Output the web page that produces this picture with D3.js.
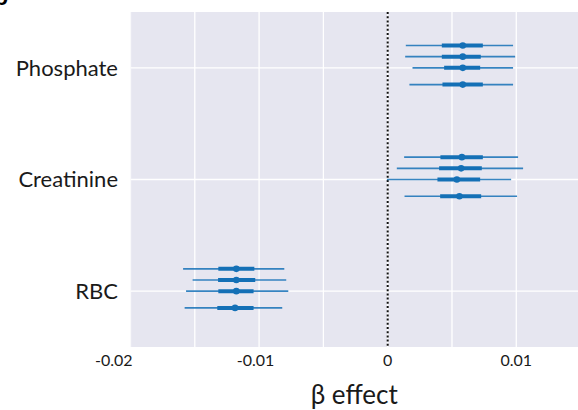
<!DOCTYPE html>
<html>
<head>
<meta charset="utf-8">
<script src="https://cdn.jsdelivr.net/npm/d3@7"></script>
<style>
  html, body { margin: 0; padding: 0; background: #ffffff; }
  svg { display: block; font-family: Lato, "Open Sans", sans-serif; }
</style>
</head>
<body>
<svg id="chart" width="578" height="410"></svg>
<script>
// ---- data ----
const categories = ["Phosphate", "Creatinine", "RBC"];
const xTicks = [-0.02, -0.01, 0, 0.01];
const xTickLabels = ["-0.02", "-0.01", "0", "0.01"];
const xLabel = "\u03b2 effect";

// point estimates per category (4 model variants each)
const phosphatePoint = [0.00584, 0.00584, 0.00584, 0.00584];
const phosphateLo95  = [0.00141, 0.00136, 0.00193, 0.00169];
const phosphateHi95  = [0.00975, 0.00991, 0.00975, 0.00975];
const phosphateLo50  = [0.00421, 0.00421, 0.00439, 0.00426];
const phosphateHi50  = [0.00740, 0.00724, 0.00719, 0.00740];

const creatininePoint = [0.00577, 0.00571, 0.00538, 0.00558];
const creatinineLo95  = [0.00128, 0.00071, -0.00006, 0.00131];
const creatinineHi95  = [0.01014, 0.01053, 0.00960, 0.01006];
const creatinineLo50  = [0.00410, 0.00400, 0.00387, 0.00408];
const creatinineHi50  = [0.00740, 0.00732, 0.00719, 0.00727];

const rbcPoint = [-0.01177, -0.01177, -0.01177, -0.01187];
const rbcLo95  = [-0.01591, -0.01517, -0.01568, -0.01579];
const rbcHi95  = [-0.00804, -0.00789, -0.00773, -0.00820];
const rbcLo50  = [-0.01317, -0.01319, -0.01317, -0.01325];
const rbcHi50  = [-0.01037, -0.01030, -0.01043, -0.01043];

const rows = [
  { cat: "Phosphate",  point: phosphatePoint,  lo95: phosphateLo95,  hi95: phosphateHi95,  lo50: phosphateLo50,  hi50: phosphateHi50 },
  { cat: "Creatinine", point: creatininePoint, lo95: creatinineLo95, hi95: creatinineHi95, lo50: creatinineLo50, hi50: creatinineHi50 },
  { cat: "RBC",        point: rbcPoint,        lo95: rbcLo95,        hi95: rbcHi95,        lo50: rbcLo50,        hi50: rbcHi50 }
];

// ---- layout ----
const svg = d3.select("#chart");
const plot = { left: 130.5, right: 578, top: 12, bottom: 347 };
const rowOffset = [-0.2, -0.1, 0, 0.15];
const col = "#1470b6";

const x = d3.scaleLinear().domain([-0.02, 0.0148]).range([plot.left, plot.right]);
const y = d3.scaleLinear().domain([-0.5, 2.5]).range([plot.top, plot.bottom]);

const clip = svg.append("clipPath").attr("id", "clipPlot")
  .append("rect").attr("x", plot.left).attr("y", plot.top)
  .attr("width", plot.right - plot.left).attr("height", plot.bottom - plot.top);

// background
svg.append("rect").attr("x", plot.left).attr("y", plot.top)
  .attr("width", plot.right - plot.left).attr("height", plot.bottom - plot.top)
  .attr("fill", "#e6e6f0");

const g = svg.append("g").attr("clip-path", "url(#clipPlot)");

// vertical grid lines every 0.005
const gridVals = d3.range(-0.02, 0.0151, 0.005);
g.selectAll("line.vg").data(gridVals).enter().append("line")
  .attr("x1", d => x(d)).attr("x2", d => x(d))
  .attr("y1", plot.top).attr("y2", plot.bottom)
  .attr("stroke", "#ffffff").attr("stroke-width", 1.3);

// horizontal grid lines at categories
g.selectAll("line.hg").data(categories).enter().append("line")
  .attr("x1", plot.left).attr("x2", plot.right)
  .attr("y1", (d, i) => y(i)).attr("y2", (d, i) => y(i))
  .attr("stroke", "#ffffff").attr("stroke-width", 1.3);

// zero line
g.append("line")
  .attr("x1", x(0)).attr("x2", x(0))
  .attr("y1", plot.top).attr("y2", plot.bottom)
  .attr("stroke", "#111").attr("stroke-width", 2)
  .attr("stroke-dasharray", "2,2.2");

// intervals
rows.forEach((r, ci) => {
  r.point.forEach((p, k) => {
    const yy = y(ci + rowOffset[k]);
    g.append("line")
      .attr("x1", x(r.lo95[k])).attr("x2", x(r.hi95[k]))
      .attr("y1", yy).attr("y2", yy)
      .attr("stroke", col).attr("stroke-opacity", 0.85).attr("stroke-width", 1.7);
    g.append("line")
      .attr("x1", x(r.lo50[k])).attr("x2", x(r.hi50[k]))
      .attr("y1", yy).attr("y2", yy)
      .attr("stroke", col).attr("stroke-width", 4);
    g.append("circle")
      .attr("cx", x(p)).attr("cy", yy).attr("r", 3.3)
      .attr("fill", col);
  });
});

// y labels
svg.selectAll("text.ylab").data(categories).enter().append("text")
  .attr("x", 118).attr("y", (d, i) => y(i))
  .attr("dy", "0.36em")
  .attr("text-anchor", "end")
  .attr("font-size", 22).attr("fill", "#1a1a1a")
  .text(d => d);

// x tick labels
svg.selectAll("text.xt").data(xTicks).enter().append("text")
  .attr("x", d => x(d))
  .attr("dx", (d, i) => i === 0 ? 2 : (d < 0 ? -3.5 : 0))
  .attr("y", 366)
  .attr("text-anchor", (d, i) => i === 0 ? "end" : "middle")
  .attr("font-size", 16).attr("fill", "#1a1a1a")
  .text((d, i) => xTickLabels[i]);

// x axis label
svg.append("text")
  .attr("x", (plot.left + plot.right) / 2).attr("y", 404)
  .attr("text-anchor", "middle")
  .attr("font-size", 26).attr("fill", "#1a1a1a")
  .text(xLabel);

// partially visible panel letter
svg.append("text")
  .attr("x", 8).attr("y", 5)
  .attr("text-anchor", "end")
  .attr("font-size", 24).attr("font-weight", "bold").attr("fill", "#000")
  .text("b");
</script>
</body>
</html>
